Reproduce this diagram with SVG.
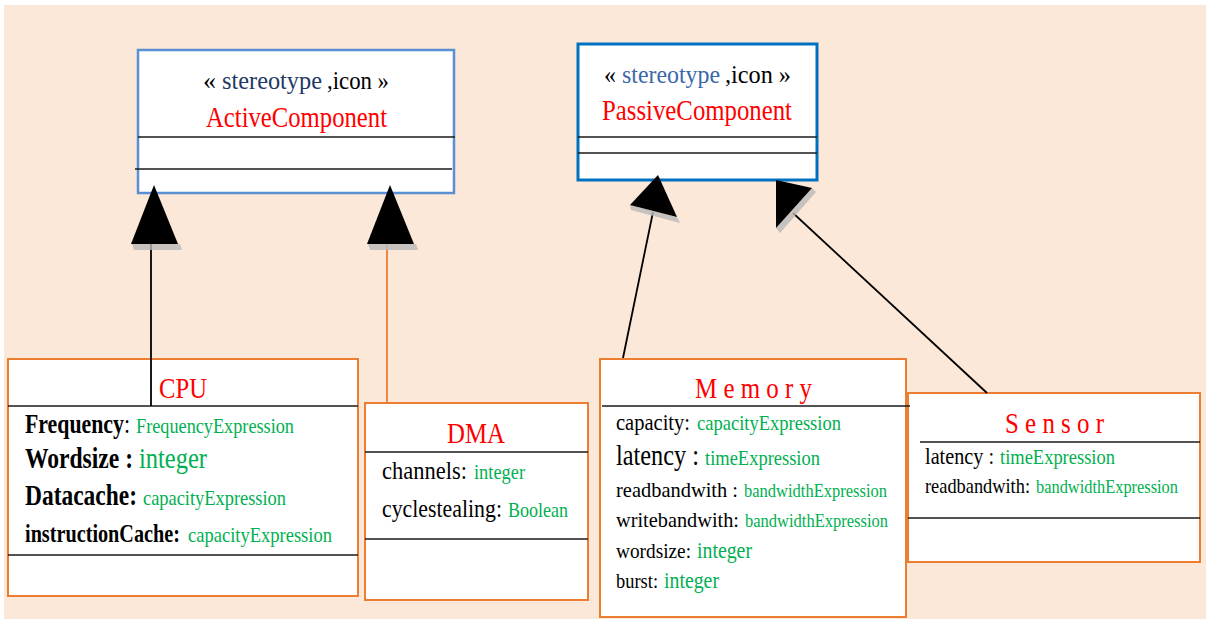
<svg xmlns="http://www.w3.org/2000/svg" width="1206" height="619" viewBox="0 0 1206 619">
  <style>
    text { font-family: "Liberation Serif", "Times New Roman", serif; fill: #000000; }
    .box { fill: #FFFFFF; stroke: #ED7D31; stroke-width: 2; }
    .rule { stroke: #1A1A1A; stroke-width: 1.6; }
    .title { fill: #FF0000; font-size: 30px; }
    .key { text-anchor: end; }
    .val { fill: #00B050; }
    .b { font-weight: bold; }
    .head { fill: #000000; }
    .shadow { fill: #B8B8B8; opacity: 0.8; }
    .link { fill: none; stroke: #000000; stroke-width: 1.8; }
  </style>

  <!-- canvas -->
  <rect x="4" y="5" width="1202" height="614" fill="#FBE8D9"/>

  <!-- abstract stereotypes -->
  <g id="active-component">
    <rect x="138" y="50" width="316" height="143" fill="#FFFFFF" stroke="#5B8FD3" stroke-width="2.5"/>
    <line class="rule" x1="138" y1="137" x2="455" y2="137"/>
    <line class="rule" x1="135" y1="169" x2="452" y2="169"/>
    <text class="key" x="216" y="89" font-size="26" textLength="13" lengthAdjust="spacingAndGlyphs">«</text>
    <text class="key" x="322" y="89" font-size="25" style="fill:#1F3864" textLength="100" lengthAdjust="spacingAndGlyphs">stereotype</text>
    <text x="327" y="89" font-size="26" textLength="62" lengthAdjust="spacingAndGlyphs">,icon »</text>
    <text class="title" x="206" y="127" textLength="181" lengthAdjust="spacingAndGlyphs">ActiveComponent</text>
  </g>

  <g id="passive-component">
    <rect x="578" y="44" width="239" height="136" fill="#FFFFFF" stroke="#0070C0" stroke-width="3"/>
    <line class="rule" x1="578" y1="137" x2="817" y2="137"/>
    <line class="rule" x1="578" y1="153" x2="817" y2="153"/>
    <text class="key" x="616" y="83" font-size="26" textLength="12" lengthAdjust="spacingAndGlyphs">«</text>
    <text class="key" x="720" y="83" font-size="25" style="fill:#3A68A8" textLength="98" lengthAdjust="spacingAndGlyphs">stereotype</text>
    <text x="725" y="83" font-size="26" textLength="66" lengthAdjust="spacingAndGlyphs">,icon »</text>
    <text class="title" x="602" y="120" textLength="190" lengthAdjust="spacingAndGlyphs">PassiveComponent</text>
  </g>

  <!-- concrete components; attribute names are narrowed with a horizontal scale -->
  <g id="cpu">
    <rect class="box" x="8" y="359" width="350" height="237"/>
    <line class="rule" x1="8" y1="406" x2="358" y2="406"/>
    <line class="rule" x1="8" y1="555" x2="358" y2="555"/>
    <text class="title" x="159" y="398" textLength="48" lengthAdjust="spacingAndGlyphs">CPU</text>
    <text class="key b" transform="translate(130,433) scale(0.805,1)" font-size="27" textLength="130.5" lengthAdjust="spacingAndGlyphs">Frequency<tspan font-weight="normal">:</tspan></text>
    <text class="val" x="136" y="433" font-size="21" textLength="158" lengthAdjust="spacingAndGlyphs">FrequencyExpression</text>
    <text class="key b" transform="translate(133,468) scale(0.803,1)" font-size="29" textLength="134.5" lengthAdjust="spacingAndGlyphs">Wordsize :</text>
    <text class="val" x="139" y="468" font-size="29" textLength="68" lengthAdjust="spacingAndGlyphs">integer</text>
    <text class="key b" transform="translate(137,505) scale(0.809,1)" font-size="29" textLength="138.5" lengthAdjust="spacingAndGlyphs">Datacache:</text>
    <text class="val" x="143" y="505" font-size="21" textLength="143" lengthAdjust="spacingAndGlyphs">capacityExpression</text>
    <text class="key b" transform="translate(180,542) scale(0.809,1)" font-size="25" textLength="191.6" lengthAdjust="spacingAndGlyphs">instructionCache:</text>
    <text class="val" x="188" y="542" font-size="21" textLength="144" lengthAdjust="spacingAndGlyphs">capacityExpression</text>
  </g>

  <g id="dma">
    <rect class="box" x="365" y="403" width="223" height="197"/>
    <line class="rule" x1="365" y1="452" x2="588" y2="452"/>
    <line class="rule" x1="365" y1="539" x2="588" y2="539"/>
    <text class="title" x="447" y="443" textLength="58" lengthAdjust="spacingAndGlyphs">DMA</text>
    <text class="key" transform="translate(467,479) scale(0.866,1)" font-size="26" textLength="98.2" lengthAdjust="spacingAndGlyphs">channels:</text>
    <text class="val" x="474" y="479" font-size="20" textLength="51" lengthAdjust="spacingAndGlyphs">integer</text>
    <text class="key" transform="translate(502,517) scale(0.843,1)" font-size="26" textLength="142.4" lengthAdjust="spacingAndGlyphs">cyclestealing:</text>
    <text class="val" x="508" y="517" font-size="21" textLength="60" lengthAdjust="spacingAndGlyphs">Boolean</text>
  </g>

  <g id="memory">
    <rect class="box" x="600" y="359" width="306" height="258"/>
    <text class="title" x="695" y="398" textLength="117" lengthAdjust="spacingAndGlyphs">M e m o r y</text>
    <text class="key" transform="translate(690,430) scale(0.892,1)" font-size="23" textLength="83" lengthAdjust="spacingAndGlyphs">capacity:</text>
    <text class="val" x="697" y="430" font-size="21" textLength="144" lengthAdjust="spacingAndGlyphs">capacityExpression</text>
    <text class="key" transform="translate(699,465) scale(0.838,1)" font-size="29" textLength="99.1" lengthAdjust="spacingAndGlyphs">latency :</text>
    <text class="val" x="705" y="465" font-size="21" textLength="115" lengthAdjust="spacingAndGlyphs">timeExpression</text>
    <text class="key" transform="translate(738,497) scale(0.973,1)" font-size="21" textLength="125.4" lengthAdjust="spacingAndGlyphs">readbandwith :</text>
    <text class="val" x="744" y="497" font-size="18" textLength="143" lengthAdjust="spacingAndGlyphs">bandwidthExpression</text>
    <text class="key" transform="translate(739,527) scale(0.967,1)" font-size="21" textLength="127.2" lengthAdjust="spacingAndGlyphs">writebandwith:</text>
    <text class="val" x="745" y="527" font-size="18" textLength="143" lengthAdjust="spacingAndGlyphs">bandwidthExpression</text>
    <text class="key" transform="translate(691,558) scale(0.919,1)" font-size="21" textLength="81.6" lengthAdjust="spacingAndGlyphs">wordsize:</text>
    <text class="val" x="697" y="558" font-size="23" textLength="55" lengthAdjust="spacingAndGlyphs">integer</text>
    <text class="key" transform="translate(658,588) scale(0.878,1)" font-size="21" textLength="47.8" lengthAdjust="spacingAndGlyphs">burst:</text>
    <text class="val" x="664" y="588" font-size="23" textLength="55" lengthAdjust="spacingAndGlyphs">integer</text>
  </g>

  <g id="sensor">
    <rect class="box" x="908" y="393" width="292" height="169"/>
    <line class="rule" x1="920" y1="442" x2="1200" y2="442"/>
    <line class="rule" x1="908" y1="518" x2="1200" y2="518"/>
    <text class="title" x="1005" y="433" textLength="99" lengthAdjust="spacingAndGlyphs">S e n s o r</text>
    <text class="key" transform="translate(994,464) scale(0.841,1)" font-size="24" textLength="82" lengthAdjust="spacingAndGlyphs">latency :</text>
    <text class="val" x="1000" y="464" font-size="20" textLength="115" lengthAdjust="spacingAndGlyphs">timeExpression</text>
    <text class="key" transform="translate(1030,493) scale(0.918,1)" font-size="20" textLength="114.4" lengthAdjust="spacingAndGlyphs">readbandwith:</text>
    <text class="val" x="1036" y="493" font-size="18" textLength="142" lengthAdjust="spacingAndGlyphs">bandwidthExpression</text>
  </g>

  <!-- memory header rule runs across into the sensor border -->
  <line class="rule" x1="602" y1="406" x2="910" y2="406"/>

  <!-- generalisation connectors -->
  <g id="connectors">
    <!-- CPU -> ActiveComponent -->
    <line class="link" x1="151" y1="244" x2="151" y2="406"/>
    <polygon class="shadow" points="132,244 180,244 182,250 134,250"/>
    <polygon class="head" points="154,185 131,244 178,244"/>

    <!-- DMA -> ActiveComponent -->
    <line class="link" x1="387" y1="244" x2="387" y2="403" style="stroke:#ED7D31"/>
    <polygon class="shadow" points="368,244 416,244 418,250 370,250"/>
    <polygon class="head" points="390,185 367,244 414,244"/>

    <!-- Memory -> PassiveComponent -->
    <line class="link" x1="653" y1="212" x2="623" y2="358"/>
    <polygon class="shadow" points="630,205 677,217 680,223 631,210"/>
    <polygon class="head" points="658,175 630,205 677,217"/>

    <!-- Sensor -> PassiveComponent -->
    <line class="link" x1="793" y1="213" x2="987" y2="393"/>
    <polygon class="shadow" points="812,188 816,192 780,233 776,228"/>
    <polygon class="head" points="776,180 812,188 776,228"/>
  </g>
</svg>
